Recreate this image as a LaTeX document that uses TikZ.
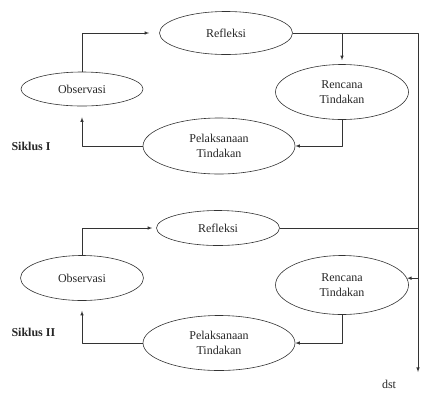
\documentclass[tikz,border=0pt]{standalone}
\usepackage{fontspec}
\setmainfont{Liberation Serif}
\usetikzlibrary{shapes.geometric}
\begin{document}
\begin{tikzpicture}[x=1pt,y=-1pt,line join=round,>=latex,
	cyc/.style={draw=black!80,line width=.6pt,ellipse,inner sep=0pt,align=center,font=\fontsize{12}{15}\selectfont},
	con/.style={->,draw=black!80,line width=.6pt}]
	\tikzset{every node/.style={text=black!85}}
	\useasboundingbox (0,0) rectangle (422,392);
	\node[cyc,minimum width=133,minimum height=43] (ref1) at (226,33) {Refleksi};
	\node[cyc,minimum width=122,minimum height=34] (obs1) at (82,89) {Observasi};
	\node[cyc,minimum width=133,minimum height=55] (ren1) at (342,92) {Rencana\\Tindakan};
	\node[cyc,minimum width=152,minimum height=56] (pel1) at (219,146) {Pelaksanaan\\Tindakan};
	\node[anchor=west,font=\fontsize{12}{14}\selectfont\bfseries] (sik1) at (8,146) {Siklus I};
	\node[cyc,minimum width=123,minimum height=35] (ref2) at (218,228) {Refleksi};
	\node[cyc,minimum width=123,minimum height=45] (obs2) at (82,278) {Observasi};
	\node[cyc,minimum width=133,minimum height=59] (ren2) at (342,285) {Rencana\\Tindakan};
	\node[cyc,minimum width=152,minimum height=55] (pel2) at (219,343) {Pelaksanaan\\Tindakan};
	\node[anchor=west,font=\fontsize{12}{14}\selectfont\bfseries] (sik2) at (8,332) {Siklus II};
	\coordinate (railtop) at (418,33);
	\coordinate (railend) at (418,372);
	\node[font=\fontsize{12}{14}\selectfont,inner sep=1pt] (dst) at (389,384) {dst};
	\draw[con,shorten >=10pt] (obs1.north) |- (ref1.west);
	\draw[con,shorten >=4pt] (ref1.east) -| (ren1.north);
	\draw[con] (ren1.south) |- (pel1.east);
	\draw[con,shorten >=11pt] (pel1.west) -| (obs1.south);
	\draw[con] (ref1.east) -- (railtop) -- (railend);
	\draw[con,shorten >=4pt] (obs2.north) |- (ref2.west);
	\draw[draw=black!80,line width=.6pt] (ref2.east) -- (ref2.east -| railtop);
	\draw[con] (railtop |- ren2.6) -- (ren2.6);
	\draw[con] (ren2.south) |- (pel2.east);
	\draw[con,shorten >=10pt] (pel2.west) -| (obs2.south);
\end{tikzpicture}
\end{document}
